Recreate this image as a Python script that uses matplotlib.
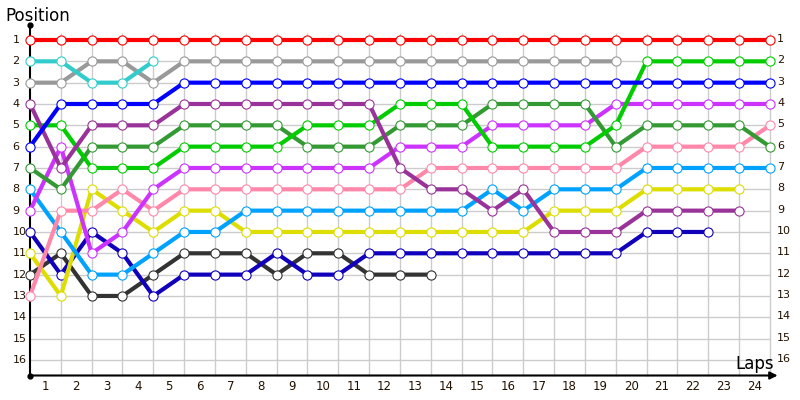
import numpy as np
import matplotlib

matplotlib.use("Agg")
from matplotlib import pyplot as plt

# lap index 0 = start grid, then laps 1..24; None = retired
laps = list(range(25))
positions_axis = list(range(1, 17))
lap_labels = [str(i) for i in range(1, 25)]

red = [1] * 25
cyan = [2, 2, 3, 3, 2]
gray = [3, 3, 2, 2, 3] + [2] * 15
blue = [6, 4, 4, 4, 4] + [3] * 20
purple = [4, 7, 5, 5, 5] + [4] * 7 + [7, 8, 8, 9, 8, 10, 10, 10, 9, 9, 9, 9]
lime = [5, 5, 7, 7, 7, 6, 6, 6, 6, 5, 5, 5, 4, 4, 4, 6, 6, 6, 6, 5, 2, 2, 2, 2, 2]
darkgreen = [7, 8, 6, 6, 6, 5, 5, 5, 5, 6, 6, 6, 5, 5, 5, 4, 4, 4, 4, 6, 5, 5, 5, 5, 6]
violet = [9, 6, 11, 10, 8] + [7] * 7 + [6, 6, 6, 5, 5, 5, 5] + [4] * 6
pink = [13, 9, 9, 8, 9] + [8] * 8 + [7] * 7 + [6] * 4 + [5]
lightblue = [8, 10, 12, 12, 11, 10, 10] + [9] * 8 + [8, 9, 8, 8, 8] + [7] * 5
yellow = [11, 13, 8, 9, 10, 9, 9] + [10] * 10 + [9, 9, 9, 8, 8, 8, 8]
navy = [10, 12, 10, 11, 13, 12, 12, 12, 11, 12, 12] + [11] * 9 + [10, 10, 10]
darkgray = [12, 11, 13, 13, 12, 11, 11, 11, 12, 11, 11, 12, 12, 12]

drivers = [
    (darkgray, "#333333"),
    (navy, "#1100bb"),
    (yellow, "#dddd00"),
    (lightblue, "#00a2ff"),
    (pink, "#ff88aa"),
    (violet, "#cc33ff"),
    (darkgreen, "#339933"),
    (lime, "#00cc00"),
    (purple, "#993399"),
    (blue, "#0000ff"),
    (gray, "#999999"),
    (cyan, "#33cccc"),
    (red, "#ff0000"),
]

# pixel layout: lap k at x = 30 + 30.83k, position p at y = 40 + 21.33(p-1)
dx, dy = 30.83, 21.33
fig = plt.figure(figsize=(8, 4), dpi=100)
ax = fig.add_axes([0, 0, 1, 1])
ax.set_xlim(-30 / dx, (800 - 30) / dx)
ax.set_ylim(1 + (400 - 40) / dy, 1 - 40 / dy)
ax.axis("off")

grid_c = "#cccccc"
x_axis_y = 1 + (375.5 - 40) / dy
top_y = 1 - (40 - 25) / dy

ax.hlines(positions_axis, 0, 24, color=grid_c, lw=1.0, zorder=1)
ax.vlines(laps[1:], 1 - 7 / dy, x_axis_y, color=grid_c, lw=1.0, zorder=1)

# axes
ax.plot([0, 0], [top_y, x_axis_y], color="black", lw=1.5, zorder=2)
ax.annotate(
    "",
    xy=(24.25, x_axis_y),
    xytext=(0, x_axis_y),
    arrowprops=dict(arrowstyle="-|>", color="black", lw=1.5, mutation_scale=11,
                    shrinkA=0, shrinkB=0),
    zorder=2,
)
ax.plot([0, 0], [top_y, x_axis_y], "o", color="black", ms=3.5, zorder=2)

for series, color in drivers:
    x = laps[: len(series)]
    ax.plot(
        x, series, "-o", color=color, lw=3, ms=6.6, mfc="white", mec=color,
        mew=0.8, zorder=3, solid_joinstyle="round", solid_capstyle="round",
    )

label_c = "#221100"
for p in positions_axis:
    ax.text(-0.57, p, str(p), ha="left", va="center", fontsize=8, color=label_c)
    ax.text(24.23, p - 0.05, str(p), ha="left", va="center", fontsize=8, color=label_c)

for i, lab in enumerate(lap_labels, start=1):
    ax.text(i - 0.5, 1 + (387 - 40) / dy, lab, ha="center", va="center",
            fontsize=8.5, color="#221100")

ax.text(-0.81, 1 - (40 - 21) / dy, "Position", ha="left", va="baseline",
        fontsize=12, color="black")
ax.text(24.13, 1 + (369 - 40) / dy, "Laps", ha="right", va="baseline",
        fontsize=12, color="black")

fig.savefig("out.png", dpi=100, facecolor="white")
